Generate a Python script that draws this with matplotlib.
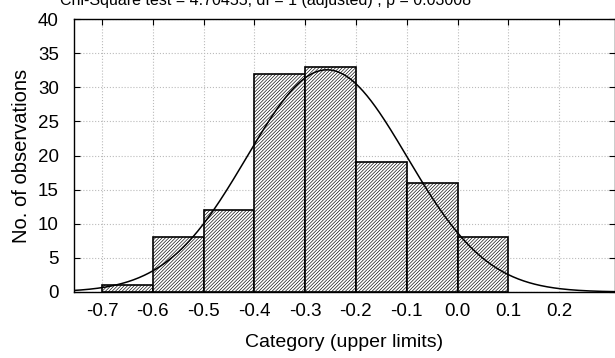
import numpy as np
import matplotlib.pyplot as plt

plt.rcParams["font.family"] = ["Liberation Sans", "DejaVu Sans"]
plt.rcParams["hatch.linewidth"] = 0.45

bin_edges = [-0.7, -0.6, -0.5, -0.4, -0.3, -0.2, -0.1, 0.0, 0.1]
counts = [1, 8, 12, 32, 33, 19, 16, 8]
xtick_vals = [-0.7, -0.6, -0.5, -0.4, -0.3, -0.2, -0.1, 0.0, 0.1, 0.2]
title = "Chi-Square test = 4.70455, df = 1 (adjusted) , p = 0.03008"

# fitted normal curve from the binned data
edges = np.array(bin_edges)
mids = (edges[:-1] + edges[1:]) / 2
w = np.array(counts)
n = w.sum()
mu = (mids * w).sum() / n
sd = np.sqrt(((mids - mu) ** 2 * w).sum() / n)
bw = edges[1] - edges[0]

fig = plt.figure(figsize=(6.15, 3.58), dpi=100)
ax = fig.add_axes([74 / 615, 1 - 292 / 358, 541 / 615, 273 / 358])

ax.bar(edges[:-1], counts, width=bw, align="edge", facecolor="white",
       edgecolor="black", hatch="/" * 10, linewidth=1.2, zorder=2)

xs = np.linspace(-0.76, 0.32, 400)
ys = n * bw / (sd * np.sqrt(2 * np.pi)) * np.exp(-0.5 * ((xs - mu) / sd) ** 2)
ax.plot(xs, ys, color="black", linewidth=1.1, zorder=3)

ax.set_xlim(-0.755, 0.31)
ax.set_ylim(0, 40)
ax.set_xticks(xtick_vals)
ax.set_xticklabels([f"{v:.1f}" for v in xtick_vals])
ax.set_yticks(range(0, 41, 5))
ax.grid(True, color="#bbbbbb", linestyle=":", linewidth=0.8, zorder=0)
ax.set_axisbelow(True)
ax.tick_params(direction="in", top=True, right=True, labelsize=13.5, length=4)
ax.tick_params(axis="x", bottom=False, pad=8)
ax.tick_params(axis="y", pad=11)
for s in ax.spines.values():
    s.set_linewidth(1.0)

ax.set_xlabel("Category (upper limits)", fontsize=14, labelpad=10)
ax.set_ylabel("No. of observations", fontsize=14.5, labelpad=5)
fig.text(266 / 615, 0.998, title, ha="center", va="center", fontsize=11.5)

fig.savefig("out.png", dpi=100)
